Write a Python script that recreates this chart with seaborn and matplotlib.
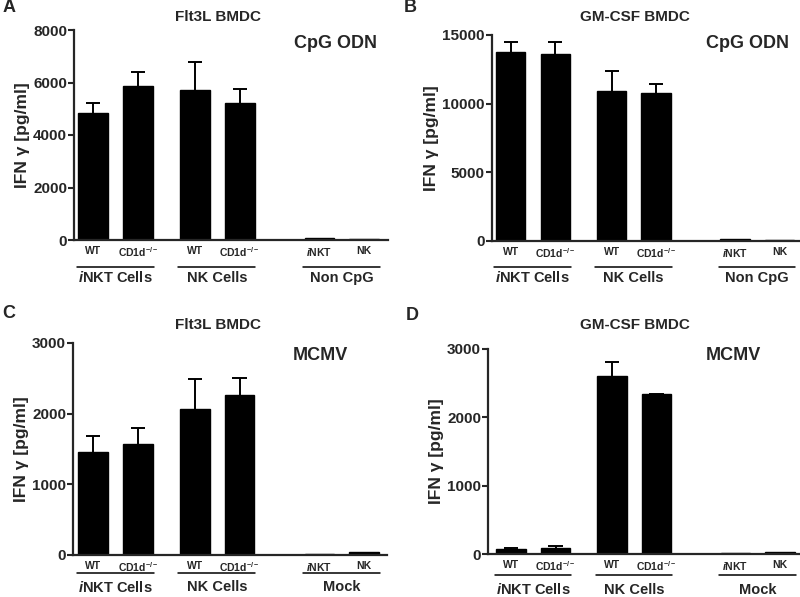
import matplotlib
matplotlib.use("Agg")
import matplotlib.pyplot as plt
import matplotlib.transforms as mtransforms
import seaborn as sns
import pandas as pd

# bar positions inside each panel (three groups of two bars)
positions = [0, 1, 2.27, 3.27, 5.05, 6.05]
tick_labels = ["WT", "CD1d$^{-/-}$", "WT", "CD1d$^{-/-}$", "$\\it{i}$NKT", "NK"]

# panel A: Flt3L BMDC, CpG ODN
a_means = [4850, 5880, 5710, 5210, 60, 40]
a_err = [380, 530, 1080, 540, 0, 0]
# panel B: GM-CSF BMDC, CpG ODN
b_means = [13740, 13600, 10940, 10750, 120, 70]
b_err = [770, 890, 1460, 700, 0, 0]
# panel C: Flt3L BMDC, MCMV
c_means = [1460, 1564, 2069, 2263, 20, 40]
c_err = [231, 236, 425, 241, 0, 0]
# panel D: GM-CSF BMDC, MCMV
d_means = [73, 88, 2606, 2338, 15, 30]
d_err = [15, 34, 209, 10, 0, 0]

groups_cpg = ["$\\it{i}$NKT Cells", "NK Cells", "Non CpG"]
groups_mcmv = ["$\\it{i}$NKT Cells", "NK Cells", "Mock"]

sns.set_theme(style="ticks")
plt.rcParams["font.family"] = ["Liberation Sans", "DejaVu Sans"]
plt.rcParams["font.weight"] = "bold"
plt.rcParams["mathtext.fontset"] = "custom"
plt.rcParams["mathtext.rm"] = "Liberation Sans:bold"
plt.rcParams["mathtext.bf"] = "Liberation Sans:bold"
plt.rcParams["mathtext.it"] = "Liberation Sans:italic:bold"
plt.rcParams["mathtext.default"] = "regular"

W, H = 800, 597
fig = plt.figure(figsize=(8, 5.97), dpi=100)


def px_axes(left, top, right, bottom):
    return fig.add_axes([left / W, (H - bottom) / H, (right - left) / W, (bottom - top) / H])


def draw_panel(ax, means, err, yticks, xlim, groups, title, cond,
               title_x, cond_x, cond_y, line_off, label_off):
    df = pd.DataFrame({"pos": positions, "val": means})
    sns.barplot(data=df, x="pos", y="val", native_scale=True, color="black",
                saturation=1, width=0.66, errorbar=None, ax=ax,
                edgecolor="black", linewidth=1)
    # upper-only error bars (SEM)
    for x, m, e in zip(positions, means, err):
        if e > 0:
            ax.vlines(x, m, m + e, color="black", lw=1.4)
            ax.hlines(m + e, x - 0.16, x + 0.16, color="black", lw=1.4)
    ax.set_xlim(*xlim)
    ax.set_ylim(0, yticks[-1])
    ax.set_yticks(yticks)
    ax.set_yticklabels([str(t) for t in yticks], fontsize=11, fontweight="bold")
    ax.set_xticks(positions)
    ax.set_xticklabels(tick_labels, fontsize=7.5, fontweight="bold")
    ax.tick_params(axis="x", length=0, pad=4)
    ax.tick_params(axis="y", length=4, width=1.5, pad=1)
    ax.set_xlabel("")
    ax.set_ylabel("IFN γ [pg/ml]", fontsize=12.5, fontweight="bold", labelpad=2)
    for s in ["top", "right"]:
        ax.spines[s].set_visible(False)
    for s in ["left", "bottom"]:
        ax.spines[s].set_linewidth(1.6)
    # group underlines and labels
    shift = mtransforms.ScaledTranslation(0, -line_off / 100, fig.dpi_scale_trans)
    for i, g in enumerate(groups):
        x0 = positions[2 * i] - 0.37
        x1 = positions[2 * i + 1] + 0.35
        ln = plt.Line2D([x0, x1], [0, 0], color="black", lw=1.1, clip_on=False,
                        transform=ax.get_xaxis_transform() + shift)
        ax.add_line(ln)
        ax.annotate(g, xy=((x0 + x1) / 2, 0), xycoords=("data", "axes fraction"),
                    xytext=(0, -label_off * 0.72), textcoords="offset points",
                    ha="center", va="center", fontsize=10.5, fontweight="bold")
    fig.text(title_x / W, 1 - title[1] / H, title[0], ha="center", va="center",
             fontsize=11, fontweight="bold")
    fig.text(cond_x / W, 1 - cond_y / H, cond, ha="center", va="center",
             fontsize=13, fontweight="bold")


ax_a = px_axes(74, 30, 388, 240)
draw_panel(ax_a, a_means, a_err, [0, 2000, 4000, 6000, 8000], (-0.43, 6.58),
           groups_cpg, ("Flt3L BMDC", 17), "CpG ODN", 218, 335, 43, 27, 38)
ax_b = px_axes(491.5, 35, 800, 241)
draw_panel(ax_b, b_means, b_err, [0, 5000, 10000, 15000], (-0.435, 6.51),
           groups_cpg, ("GM-CSF BMDC", 17), "CpG ODN", 635, 747, 43, 26, 37)
ax_c = px_axes(73, 343, 387, 555)
draw_panel(ax_c, c_means, c_err, [0, 1000, 2000, 3000], (-0.45, 6.56),
           groups_mcmv, ("Flt3L BMDC", 325), "MCMV", 218, 320, 356, 18, 32)
ax_d = px_axes(488, 349, 800, 554)
draw_panel(ax_d, d_means, d_err, [0, 1000, 2000, 3000], (-0.52, 6.5),
           groups_mcmv, ("GM-CSF BMDC", 325), "MCMV", 635, 733, 356, 21, 36)

for letter, x, y in [("A", 9, 8), ("B", 410, 8), ("C", 9, 313), ("D", 412, 315)]:
    fig.text(x / W, 1 - y / H, letter, ha="center", va="center",
             fontsize=13, fontweight="bold")

fig.savefig("out.png", dpi=100)
